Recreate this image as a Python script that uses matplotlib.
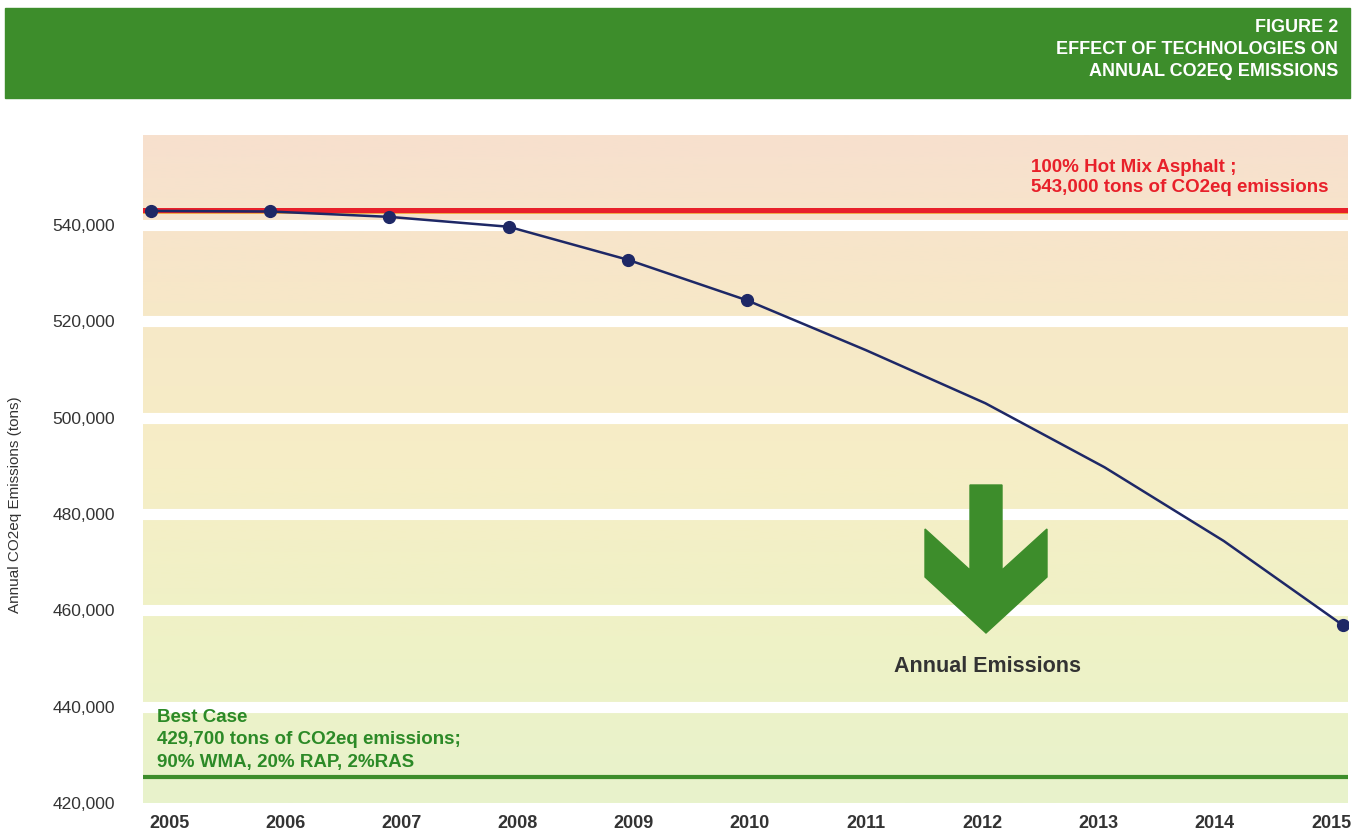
import numpy as np
import matplotlib
matplotlib.use("Agg")
import matplotlib.pyplot as plt
from matplotlib.patches import Polygon, Rectangle


# ------------------------------------------------------------
# Data
# ------------------------------------------------------------

years = [2005, 2006, 2007, 2008, 2009, 2010, 2011, 2012, 2013, 2014, 2015]
annual_emissions = [542940, 542820, 541700, 539650, 532800, 524380,
                    514000, 503000, 489700, 474400, 456900]
marked_idx = [0, 1, 2, 3, 4, 5, 10]

hma_level = 543200        # 100% hot mix asphalt line
hma_shadow = 542450       # thin orange line under the red one
best_case_level = 425300  # best case line as drawn

y_ticks = [420000, 440000, 460000, 480000, 500000, 520000, 540000]
grid_values = [440000, 460000, 480000, 500000, 520000, 540000]

header_lines = ["FIGURE 2", "EFFECT OF TECHNOLOGIES ON", "ANNUAL CO2EQ EMISSIONS"]
hma_text = ["100% Hot Mix Asphalt ;", "543,000 tons of CO2eq emissions"]
best_text = ["Best Case", "429,700 tons of CO2eq emissions;", "90% WMA, 20% RAP, 2%RAS"]


# ------------------------------------------------------------
# Fonts / colours
# ------------------------------------------------------------

plt.rcParams["font.family"] = ["Liberation Sans", "DejaVu Sans"]

GREEN = "#3d8d2b"
GREEN_TXT = "#2c8a27"
RED = "#e8202a"
NAVY = "#1e2866"
GREY = "#333333"

W, H = 1355, 834


def fx(px):
    return px / W


def fy(py):
    return 1 - py / H


fig = plt.figure(figsize=(13.55, 8.34), dpi=100)
fig.patch.set_facecolor("white")

# header banner
fig.patches.append(Rectangle((fx(5), fy(98)), fx(1345), 90 / H,
                             transform=fig.transFigure, color=GREEN, zorder=0))
for line, ypx in zip(header_lines, [27, 49, 72]):
    fig.text(fx(1338), fy(ypx), line, color="white", fontsize=13,
             fontweight="bold", ha="right", va="center")

# main axes
ax = fig.add_axes([fx(143), fy(803), fx(1205), 668 / H])

# background gradient: peach at top -> yellow -> light green at bottom
stops = np.array([
    [247, 224, 206],
    [247, 232, 200],
    [246, 238, 198],
    [239, 242, 198],
    [232, 243, 204],
]) / 255.0
t = np.linspace(0, 1, 256)
pos = np.linspace(0, 1, len(stops))
grad = np.stack([np.interp(t, pos, stops[:, c]) for c in range(3)], axis=-1)
ax.imshow(grad[:, None, :], extent=[0, 1, 0, 1], transform=ax.transAxes,
          aspect="auto", zorder=0)

for g in grid_values:
    ax.axhline(g, color="white", linewidth=8, zorder=1)

ax.axhline(hma_shadow, color="#f0a030", linewidth=1.2, zorder=2)
ax.axhline(hma_level, color=RED, linewidth=3.6, zorder=3)
ax.axhline(best_case_level, color=GREEN, linewidth=3.0, zorder=3)

ax.plot(years, annual_emissions, color=NAVY, linewidth=1.8,
        marker="o", markersize=8.5, markevery=marked_idx, zorder=4)

ax.set_xlim(2004.933, 2015.042)
ax.set_ylim(420000, 558700)
ax.set_xticks([])
ax.set_yticks(y_ticks)
ax.set_yticklabels([f"{v:,}" for v in y_ticks])
ax.tick_params(axis="both", length=0, colors=GREY)
ax.tick_params(axis="y", labelsize=12.5, pad=20)
for s in ax.spines.values():
    s.set_visible(False)

# year labels in the original sit on a slightly tighter spacing than the points
def to_label(x):
    return 2005 + ((x - 2005) * 119.1 - 18) / 116.1


def from_label(s):
    return 2005 + (18 + (s - 2005) * 116.1) / 119.1


sec = ax.secondary_xaxis("bottom", functions=(to_label, from_label))
sec.set_xticks(years)
sec.set_xticklabels([str(y) for y in years])
sec.tick_params(axis="x", length=0, colors=GREY, labelsize=13, pad=9)
for lab in sec.get_xticklabels():
    lab.set_fontweight("bold")
sec.spines["bottom"].set_visible(False)

# annotations
for line, ypx in zip(hma_text, [167, 188]):
    fig.text(fx(1031), fy(ypx), line, color=RED, fontsize=13.5,
             fontweight="bold", ha="left", va="center")
for line, ypx in zip(best_text, [718, 740, 763]):
    fig.text(fx(157), fy(ypx), line, color=GREEN_TXT, fontsize=13.5,
             fontweight="bold", ha="left", va="center")

arrow_px = [(970, 485), (1002, 485), (1002, 570), (1047, 529), (1047, 577),
            (986, 633), (925, 577), (925, 529), (970, 570)]
fig.patches.append(Polygon([(fx(x), fy(y)) for x, y in arrow_px], closed=True,
                           transform=fig.transFigure, color=GREEN, zorder=5))
fig.text(fx(988), fy(667), "Annual Emissions", color=GREY, fontsize=15.5,
         fontweight="bold", ha="center", va="center")

fig.text(fx(15), fy(505), "Annual CO2eq Emissions (tons)", color=GREY,
         fontsize=11, rotation=90, ha="center", va="center")

fig.savefig("out.png", dpi=100)
